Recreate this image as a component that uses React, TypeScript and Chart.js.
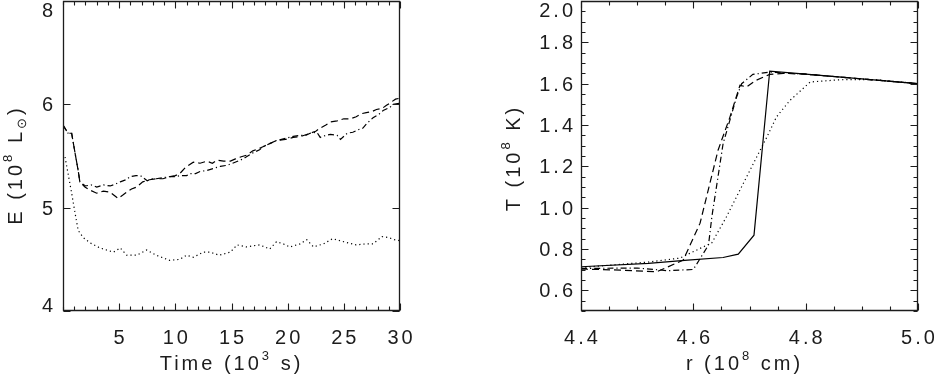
import React, { useEffect, useRef } from 'react';
import { Chart, registerables } from 'chart.js';

Chart.register(...registerables);

// ---------- Left panel: E (10^8 Lsun) vs Time (10^3 s) ----------
const timeDashed = [0, 0.45, 0.77, 1.07, 1.35, 1.5, 1.95, 2.4, 3.0, 3.6, 4.2, 4.9, 5.3, 5.67, 6.1, 6.56, 7.1, 7.7, 8.3, 8.9, 9.5, 10.0, 10.4, 10.9, 11.6, 12.2, 12.8, 13.3, 13.7, 14.3, 14.9, 15.3, 15.8, 16.4, 16.9, 17.4, 17.8, 18.4, 19.0, 19.8, 20.5, 21.2, 22.0, 22.5, 22.9, 23.4, 23.8, 24.4, 25.0, 25.6, 26.1, 26.6, 27.0, 27.5, 27.9, 28.4, 28.8, 29.2, 29.6, 30.0];
const eDashed = [5.80, 5.72, 5.72, 5.53, 5.36, 5.25, 5.20, 5.17, 5.14, 5.16, 5.15, 5.09, 5.12, 5.15, 5.18, 5.20, 5.25, 5.27, 5.28, 5.28, 5.30, 5.31, 5.33, 5.39, 5.44, 5.43, 5.45, 5.43, 5.46, 5.45, 5.45, 5.47, 5.49, 5.51, 5.55, 5.57, 5.59, 5.62, 5.65, 5.66, 5.68, 5.69, 5.72, 5.74, 5.77, 5.80, 5.83, 5.84, 5.86, 5.86, 5.88, 5.91, 5.92, 5.93, 5.95, 5.96, 5.99, 6.02, 6.05, 6.06];

const timeDashDot = [0, 0.45, 0.77, 1.07, 1.35, 1.5, 2.0, 2.5, 3.0, 3.6, 4.2, 4.7, 5.1, 5.6, 6.0, 6.5, 6.9, 7.5, 7.9, 8.3, 8.9, 9.5, 10.0, 10.4, 11.0, 11.3, 11.8, 12.2, 12.8, 13.4, 14.0, 14.6, 15.1, 15.8, 16.3, 16.9, 17.5, 17.8, 18.4, 19.0, 19.8, 20.5, 21.1, 21.6, 22.0, 22.6, 22.9, 23.4, 23.8, 24.4, 24.7, 25.3, 25.8, 26.4, 26.7, 27.0, 27.6, 28.2, 28.5, 29.1, 29.4, 30.0];
const eDashDot = [5.80, 5.72, 5.72, 5.53, 5.36, 5.25, 5.21, 5.22, 5.20, 5.22, 5.21, 5.23, 5.25, 5.27, 5.30, 5.31, 5.31, 5.26, 5.28, 5.28, 5.29, 5.30, 5.30, 5.31, 5.31, 5.33, 5.33, 5.35, 5.36, 5.38, 5.40, 5.41, 5.43, 5.46, 5.49, 5.53, 5.56, 5.59, 5.62, 5.65, 5.67, 5.69, 5.70, 5.70, 5.72, 5.73, 5.68, 5.70, 5.71, 5.70, 5.66, 5.72, 5.73, 5.76, 5.77, 5.81, 5.87, 5.91, 5.94, 5.97, 6.00, 6.01];

const timeDotted = [0.18, 0.45, 0.77, 1.07, 1.35, 1.8, 2.4, 3.3, 4.5, 5.1, 5.67, 6.56, 7.45, 8.3, 9.5, 10.4, 11.0, 11.6, 12.5, 13.1, 13.9, 14.9, 15.5, 16.3, 17.5, 18.4, 19.0, 19.6, 20.2, 21.1, 21.7, 22.3, 23.2, 24.0, 25.0, 26.1, 27.0, 27.6, 28.4, 29.0, 29.5, 30.0];
const eDotted = [5.49, 5.33, 5.14, 4.95, 4.78, 4.71, 4.66, 4.61, 4.57, 4.61, 4.54, 4.54, 4.59, 4.54, 4.49, 4.50, 4.54, 4.52, 4.57, 4.57, 4.54, 4.57, 4.64, 4.62, 4.64, 4.60, 4.67, 4.65, 4.62, 4.65, 4.69, 4.62, 4.65, 4.70, 4.67, 4.64, 4.65, 4.65, 4.72, 4.71, 4.69, 4.68];

const leftXTickValues = [5, 10, 15, 20, 25, 30];
const leftXTickLabels = ['5', '10', '15', '20', '25', '30'];
const leftYTickValues = [4, 5, 6, 7];
const leftYTickLabels = ['4', '5', '6', '8'];

// ---------- Right panel: T (10^8 K) vs r (10^8 cm) ----------
const rSolid = [4.40, 4.52, 4.59, 4.653, 4.68, 4.708, 4.736, 4.80, 4.90, 5.00];
const tSolid = [0.714, 0.730, 0.746, 0.759, 0.775, 0.867, 1.661, 1.646, 1.623, 1.600];

const rDashed = [4.40, 4.47, 4.535, 4.582, 4.612, 4.644, 4.665, 4.683, 4.695, 4.710, 4.736, 4.76, 4.80, 4.90, 5.00];
const tDashed = [0.703, 0.698, 0.690, 0.746, 0.925, 1.278, 1.437, 1.592, 1.584, 1.614, 1.645, 1.650, 1.646, 1.623, 1.600];

const rDashDot = [4.40, 4.50, 4.555, 4.600, 4.627, 4.633, 4.653, 4.677, 4.686, 4.706, 4.736, 4.76, 4.80, 4.90, 5.00];
const tDashDot = [0.706, 0.708, 0.695, 0.701, 0.819, 0.956, 1.310, 1.535, 1.600, 1.645, 1.656, 1.652, 1.646, 1.623, 1.600];

const rDotted = [4.40, 4.52, 4.576, 4.633, 4.659, 4.683, 4.707, 4.731, 4.748, 4.772, 4.808, 4.861, 4.92, 5.00];
const tDotted = [0.710, 0.737, 0.756, 0.830, 0.956, 1.085, 1.214, 1.342, 1.439, 1.519, 1.608, 1.619, 1.620, 1.600];

const rightXTickValues = [4.4, 4.6, 4.8, 5.0];
const rightXTickLabels = ['4.4', '4.6', '4.8', '5.0'];
const rightYTickValues = [0.6, 0.8, 1.0, 1.2, 1.4, 1.6, 1.8, 2.0];
const rightYTickLabels = ['0.6', '0.8', '1.0', '1.2', '1.4', '1.6', '1.8', '2.0'];

// Axis titles: [text, 0 normal | 1 superscript | -1 subscript]
const leftXTitle: [string, number][] = [['Time (10', 0], ['3', 1], [' s)', 0]];
const leftYTitle: [string, number][] = [['E (10', 0], ['8', 1], [' L', 0], ['\u2299', -1], [')', 0]];
const rightXTitle: [string, number][] = [['r (10', 0], ['8', 1], [' cm)', 0]];
const rightYTitle: [string, number][] = [['T (10', 0], ['8', 1], [' K)', 0]];

const INK = '#1c1c1c';
const FONT_FAMILY = '"Liberation Sans", Arial, Helvetica, sans-serif';
const FONT_SIZE = 20;
const LETTER_SPACING = 3;

function pts(xs: number[], ys: number[]) {
  return xs.map((x, i) => ({ x, y: ys[i] }));
}

function minorValues(min: number, max: number, step: number) {
  const out: number[] = [];
  const n = Math.round((max - min) / step);
  for (let i = 0; i <= n; i++) out.push(min + i * step);
  return out;
}

function drawTitle(ctx: CanvasRenderingContext2D, segs: [string, number][], cx: number, baseY: number, rotate: boolean) {
  ctx.save();
  ctx.translate(cx, baseY);
  if (rotate) ctx.rotate(-Math.PI / 2);
  const widths = segs.map(([t, m]) => {
    const size = m === 0 ? FONT_SIZE : Math.round(FONT_SIZE * 0.65);
    ctx.font = `${size}px ${FONT_FAMILY}`;
    return ctx.measureText(t).width;
  });
  const total = widths.reduce((a, b) => a + b, 0);
  let x = -total / 2;
  ctx.textAlign = 'left';
  ctx.textBaseline = 'alphabetic';
  segs.forEach(([t, m], i) => {
    const size = m === 0 ? FONT_SIZE : Math.round(FONT_SIZE * 0.65);
    ctx.font = `${size}px ${FONT_FAMILY}`;
    const dy = m === 1 ? -FONT_SIZE * 0.5 : m === -1 ? FONT_SIZE * 0.22 : 0;
    ctx.fillText(t, x, dy);
    x += widths[i];
  });
  ctx.restore();
}

const idlFrame = {
  id: 'idlFrame',
  afterDraw(chart: any, _args: any, o: any) {
    const { ctx, chartArea: a, scales } = chart;
    const xs = scales.x;
    const ys = scales.y;
    const L = Math.round(a.left) + 0.5;
    const R = Math.round(a.right) - 0.5;
    const T = Math.round(a.top) + 0.5;
    const B = Math.round(a.bottom) - 0.5;
    ctx.save();
    ctx.strokeStyle = INK;
    ctx.lineWidth = 1.3;
    ctx.beginPath();
    ctx.rect(L, T, R - L, B - T);
    ctx.stroke();

    const MAJ = 7;
    const MIN = 4;
    ctx.lineWidth = 1.1;
    ctx.beginPath();
    const xTick = (v: number, len: number) => {
      const p = Math.round(xs.getPixelForValue(v)) + 0.5;
      ctx.moveTo(p, B); ctx.lineTo(p, B - len);
      ctx.moveTo(p, T); ctx.lineTo(p, T + len);
    };
    const yTick = (v: number, len: number) => {
      const p = Math.round(ys.getPixelForValue(v)) + 0.5;
      ctx.moveTo(L, p); ctx.lineTo(L + len, p);
      ctx.moveTo(R, p); ctx.lineTo(R - len, p);
    };
    if (o.xMinorStep) minorValues(xs.min, xs.max, o.xMinorStep).forEach((v) => xTick(v, MIN));
    if (o.yMinorStep) minorValues(ys.min, ys.max, o.yMinorStep).forEach((v) => yTick(v, MIN));
    o.xMajor.forEach((v: number) => xTick(v, MAJ));
    o.yMajor.forEach((v: number) => yTick(v, MAJ));
    ctx.stroke();

    ctx.fillStyle = INK;
    ctx.font = `${FONT_SIZE}px ${FONT_FAMILY}`;
    (ctx as any).letterSpacing = `${LETTER_SPACING}px`;
    ctx.textBaseline = 'alphabetic';

    ctx.textAlign = 'center';
    o.xMajor.forEach((v: number, i: number) => {
      const p = xs.getPixelForValue(v);
      ctx.fillText(o.xLabels[i], p + LETTER_SPACING / 2, a.bottom + 33);
    });
    ctx.textAlign = 'right';
    o.yMajor.forEach((v: number, i: number) => {
      const p = ys.getPixelForValue(v);
      const base = Math.min(Math.max(p + 7, 17), a.bottom + 1);
      ctx.fillText(o.yLabels[i], a.left - o.yLabelGap + LETTER_SPACING, base);
    });

    drawTitle(ctx, o.xTitle, (a.left + a.right) / 2 + o.xTitleDx, a.bottom + 59, false);
    drawTitle(ctx, o.yTitle, o.yTitleX, o.yTitleY, true);
    ctx.restore();
  },
};

const lineStyle = (dash: number[]) => ({
  borderColor: '#000',
  borderWidth: 1.2,
  borderDash: dash,
  pointRadius: 0,
  tension: 0,
  fill: false,
});

const DASHED = [7, 4];
const DOTTED = [1.2, 3];
const DASHDOT = [6, 3, 1.2, 3];

function leftConfig(): any {
  return {
    type: 'line',
    data: {
      datasets: [
        { label: 'dashed', data: pts(timeDashed, eDashed), ...lineStyle(DASHED) },
        { label: 'dash-dot', data: pts(timeDashDot, eDashDot), ...lineStyle(DASHDOT) },
        { label: 'dotted', data: pts(timeDotted, eDotted), ...lineStyle(DOTTED) },
      ],
    },
    options: {
      animation: false,
      responsive: false,
      layout: { padding: { left: 63, right: 67, top: 1, bottom: 67 } },
      scales: {
        x: { type: 'linear', min: 0, max: 30, display: false },
        y: { type: 'linear', min: 4, max: 7, display: false },
      },
      plugins: {
        legend: { display: false },
        tooltip: { enabled: false },
        idlFrame: {
          xMajor: leftXTickValues,
          xLabels: leftXTickLabels,
          xMinorStep: 1,
          yMajor: leftYTickValues,
          yLabels: leftYTickLabels,
          yMinorStep: 0,
          yLabelGap: 10,
          xTitle: leftXTitle,
          xTitleDx: 0,
          yTitle: leftYTitle,
          yTitleX: 22,
          yTitleY: 165,
        },
      },
    },
    plugins: [idlFrame],
  };
}

function rightConfig(): any {
  return {
    type: 'line',
    data: {
      datasets: [
        { label: 'solid', data: pts(rSolid, tSolid), ...lineStyle([]) },
        { label: 'dashed', data: pts(rDashed, tDashed), ...lineStyle(DASHED) },
        { label: 'dash-dot', data: pts(rDashDot, tDashDot), ...lineStyle(DASHDOT) },
        { label: 'dotted', data: pts(rDotted, tDotted), ...lineStyle(DOTTED) },
      ],
    },
    options: {
      animation: false,
      responsive: false,
      layout: { padding: { left: 114, right: 16, top: 1, bottom: 67 } },
      scales: {
        x: { type: 'linear', min: 4.4, max: 5.0, display: false },
        y: { type: 'linear', min: 0.5, max: 2.0, display: false },
      },
      plugins: {
        legend: { display: false },
        tooltip: { enabled: false },
        idlFrame: {
          xMajor: rightXTickValues,
          xLabels: rightXTickLabels,
          xMinorStep: 0.05,
          yMajor: rightYTickValues,
          yLabels: rightYTickLabels,
          yMinorStep: 0.05,
          yLabelGap: 8,
          xTitle: rightXTitle,
          xTitleDx: -5,
          yTitle: rightYTitle,
          yTitleX: 53,
          yTitleY: 158,
        },
      },
    },
    plugins: [idlFrame],
  };
}

function Panel({ make, left }: { make: () => any; left: number }) {
  const ref = useRef<HTMLCanvasElement | null>(null);
  useEffect(() => {
    if (!ref.current) return;
    const chart = new Chart(ref.current, make());
    return () => chart.destroy();
  }, []);
  return (
    <canvas
      ref={ref}
      width={467}
      height={378}
      style={{ position: 'absolute', left, top: 0, width: 467, height: 378 }}
    />
  );
}

export default function App() {
  return (
    <div style={{ position: 'fixed', left: 0, top: 0, width: 934, height: 378, background: '#fff', overflow: 'hidden' }}>
      <Panel make={leftConfig} left={0} />
      <Panel make={rightConfig} left={467} />
    </div>
  );
}
